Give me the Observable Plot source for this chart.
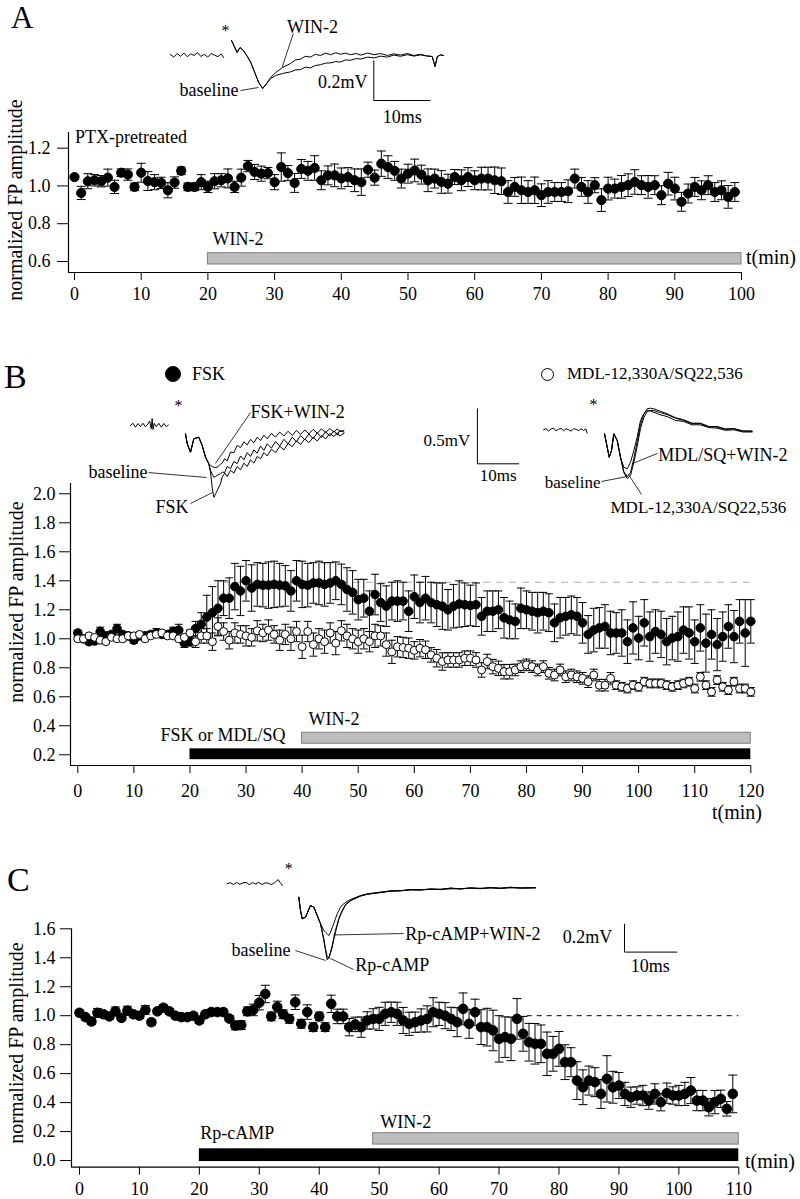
<!DOCTYPE html>
<html>
<head>
<meta charset="utf-8">
<script src="https://cdn.jsdelivr.net/npm/d3@7"></script>
<script src="https://cdn.jsdelivr.net/npm/@observablehq/plot@0.6"></script>
<style>
html,body{margin:0;padding:0;background:#fff;}
#fig{position:relative;width:800px;height:1199px;overflow:hidden;font-family:"Liberation Serif","Times New Roman",serif;color:#000;}
#fig svg{position:absolute;overflow:visible;max-width:none;}
</style>
</head>
<body>
<div id="fig"></div>
<script>
// ================= DATA =================
// Panel A : PTX-pretreated, WIN-2 from 20 to 100 min
const timeA = d3.range(0, 100);
const ampA = [1.047,0.963,1.025,1.03,1.025,1.044,0.995,1.07,1.06,0.995,
  1.07,1.026,1.02,1.016,0.977,1.018,1.08,0.995,0.995,1.02,
  0.995,1.025,1.03,1.04,0.995,1.044,1.105,1.074,1.065,1.068,
  1.02,1.10,1.068,1.016,1.09,1.08,1.095,1.03,1.056,1.056,
  1.04,1.047,1.03,1.02,1.086,1.044,1.118,1.10,1.08,1.039,
  1.065,1.082,1.06,1.03,1.039,1.021,1.012,1.047,1.03,1.047,
  1.03,1.039,1.039,1.03,1.025,0.968,0.995,0.977,0.968,0.977,
  0.951,0.968,0.968,0.968,0.972,1.039,0.995,0.968,1.004,0.925,
  0.986,0.986,0.995,1.004,1.021,1.004,0.995,1.004,0.951,1.012,
  0.986,0.916,0.96,0.995,0.977,1.004,0.968,0.977,0.942,0.968];
const errA = [0.012,0.035,0.04,0.03,0.03,0.045,0.035,0.02,0.03,0.02,
  0.05,0.05,0.04,0.03,0.04,0.03,0.02,0.02,0.02,0.04,
  0.03,0.04,0.035,0.05,0.03,0.045,0.03,0.04,0.04,0.03,
  0.04,0.075,0.04,0.05,0.05,0.05,0.065,0.05,0.05,0.06,
  0.055,0.05,0.06,0.07,0.04,0.04,0.067,0.06,0.05,0.05,
  0.05,0.06,0.05,0.06,0.05,0.06,0.05,0.04,0.055,0.05,
  0.05,0.06,0.06,0.07,0.07,0.06,0.05,0.07,0.06,0.07,
  0.06,0.06,0.05,0.05,0.06,0.05,0.05,0.06,0.04,0.06,
  0.06,0.05,0.06,0.06,0.065,0.05,0.06,0.05,0.05,0.06,
  0.06,0.05,0.05,0.05,0.05,0.05,0.05,0.05,0.06,0.05];
const drugA = [{name: "WIN-2", start: 20, end: 100}];

// Panel B : FSK (filled) and MDL-12,330A/SQ22,536 (open)
const timeB = d3.range(0, 121);
const ampFSK = [1.04,1.0,0.98,0.985,1.05,1.02,1.03,1.07,1.03,1.02,
  0.99,1.02,1.02,1.03,1.04,1.03,1.03,1.05,1.06,0.97,
  0.98,1.07,1.10,1.15,1.18,1.21,1.28,1.28,1.36,1.33,
  1.40,1.35,1.375,1.37,1.37,1.375,1.37,1.365,1.33,1.40,
  1.375,1.37,1.385,1.385,1.375,1.385,1.40,1.375,1.34,1.32,
  1.27,1.28,1.19,1.305,1.25,1.225,1.26,1.26,1.26,1.19,
  1.29,1.25,1.28,1.25,1.235,1.225,1.20,1.225,1.24,1.235,
  1.23,1.235,1.155,1.19,1.19,1.20,1.145,1.13,1.12,1.21,
  1.20,1.19,1.18,1.19,1.18,1.11,1.145,1.155,1.165,1.155,
  1.11,1.03,1.06,1.075,1.085,1.04,1.04,1.04,0.98,1.075,
  1.005,1.11,1.015,1.05,1.03,0.98,1.005,1.015,1.06,1.04,
  0.98,1.075,0.97,1.03,0.96,1.015,1.085,1.015,1.12,1.04,1.12];
const errFSK = [0.02,0.02,0.02,0.02,0.03,0.02,0.02,0.03,0.02,0.02,
  0.02,0.02,0.02,0.02,0.03,0.02,0.02,0.03,0.04,0.03,
  0.03,0.05,0.08,0.15,0.18,0.19,0.12,0.14,0.16,0.17,
  0.14,0.16,0.15,0.15,0.16,0.16,0.15,0.14,0.14,0.14,
  0.16,0.15,0.14,0.15,0.15,0.14,0.13,0.14,0.15,0.15,
  0.14,0.13,0.14,0.14,0.13,0.14,0.13,0.14,0.13,0.14,
  0.15,0.14,0.15,0.14,0.15,0.16,0.14,0.15,0.16,0.15,
  0.14,0.15,0.13,0.14,0.14,0.13,0.14,0.13,0.12,0.14,
  0.13,0.13,0.14,0.13,0.13,0.13,0.14,0.13,0.13,0.13,
  0.14,0.13,0.15,0.14,0.15,0.15,0.14,0.16,0.15,0.18,
  0.15,0.16,0.17,0.15,0.16,0.16,0.15,0.17,0.16,0.18,
  0.15,0.16,0.2,0.17,0.18,0.17,0.15,0.18,0.15,0.23,0.15];
const ampMDL = [1.0,1.0,1.02,1.01,0.99,0.98,1.01,1.0,1.0,1.02,
  1.02,1.03,1.0,1.02,1.03,1.04,1.02,1.02,1.0,1.01,
  1.04,0.98,1.02,1.02,0.98,1.085,1.05,0.99,1.04,1.03,
  1.02,1.01,1.055,1.04,1.06,1.03,0.99,1.03,1.0,1.05,
  0.945,1.05,0.96,1.0,0.98,1.04,0.97,1.055,1.02,1.0,
  0.98,1.0,0.98,1.02,1.02,0.96,0.91,0.945,0.94,0.935,
  0.92,0.935,0.924,0.889,0.866,0.843,0.854,0.854,0.854,0.866,
  0.866,0.854,0.785,0.843,0.808,0.796,0.773,0.773,0.785,0.808,
  0.82,0.808,0.785,0.808,0.762,0.75,0.785,0.738,0.75,0.738,
  0.727,0.704,0.75,0.68,0.68,0.727,0.68,0.669,0.657,0.68,
  0.669,0.704,0.692,0.692,0.692,0.68,0.669,0.68,0.692,0.704,
  0.657,0.738,0.68,0.634,0.715,0.669,0.646,0.704,0.657,0.657,0.634];
const errMDL = [0.01,0.012,0.01,0.012,0.01,0.012,0.01,0.012,0.01,0.012,
  0.01,0.012,0.01,0.012,0.015,0.012,0.01,0.012,0.015,0.012,
  0.02,0.04,0.05,0.05,0.06,0.06,0.06,0.06,0.07,0.06,
  0.07,0.06,0.07,0.06,0.07,0.06,0.07,0.07,0.08,0.07,
  0.08,0.07,0.08,0.07,0.08,0.07,0.08,0.07,0.08,0.07,
  0.08,0.07,0.07,0.08,0.07,0.08,0.08,0.07,0.07,0.07,
  0.06,0.06,0.06,0.05,0.06,0.06,0.05,0.05,0.05,0.05,
  0.05,0.05,0.05,0.05,0.05,0.05,0.05,0.05,0.04,0.04,
  0.04,0.04,0.04,0.04,0.04,0.04,0.04,0.04,0.04,0.04,
  0.04,0.04,0.04,0.04,0.04,0.04,0.03,0.03,0.03,0.03,
  0.03,0.03,0.03,0.03,0.03,0.03,0.03,0.03,0.03,0.03,
  0.03,0.03,0.03,0.03,0.03,0.03,0.03,0.03,0.03,0.03,0.03];
const drugB1 = [{name: "FSK or MDL/SQ", start: 20, end: 120}];
const drugB2 = [{name: "WIN-2", start: 40, end: 120}];
const refLevelB = 1.39;

// Panel C : Rp-cAMP
const timeC = d3.range(0, 110);
const ampC = [1.02,0.99,0.96,1.02,1.01,0.995,1.03,0.985,1.035,1.01,
  1.0,1.04,0.955,1.03,1.055,1.03,1.0,0.99,0.99,1.0,
  0.967,1.01,1.025,1.025,1.025,0.98,0.932,0.935,1.03,1.04,
  1.09,1.15,0.995,1.06,1.01,0.978,1.093,0.944,1.025,0.921,
  0.995,0.921,1.082,0.995,0.995,0.921,0.94,0.921,0.967,0.978,
  0.978,1.013,1.024,1.013,0.967,0.944,0.955,0.967,0.978,1.024,
  1.013,1.0,0.978,0.955,1.047,0.944,1.024,0.921,0.921,0.898,
  0.84,0.852,0.84,0.978,0.875,0.817,0.806,0.806,0.737,0.737,
  0.771,0.679,0.679,0.552,0.506,0.552,0.541,0.46,0.564,0.506,
  0.518,0.46,0.437,0.449,0.449,0.414,0.46,0.403,0.465,0.449,
  0.449,0.46,0.483,0.414,0.414,0.368,0.403,0.426,0.357,0.46];
const errC = [0.02,0.02,0.02,0.03,0.02,0.02,0.03,0.02,0.03,0.02,
  0.02,0.03,0.02,0.02,0.02,0.02,0.02,0.02,0.02,0.02,
  0.02,0.02,0.02,0.02,0.02,0.02,0.03,0.03,0.03,0.04,
  0.05,0.06,0.03,0.04,0.03,0.03,0.05,0.03,0.05,0.03,
  0.03,0.03,0.06,0.05,0.05,0.06,0.05,0.07,0.06,0.07,
  0.08,0.08,0.07,0.08,0.09,0.08,0.07,0.08,0.09,0.1,
  0.08,0.09,0.08,0.1,0.11,0.1,0.09,0.12,0.13,0.14,
  0.16,0.14,0.15,0.14,0.12,0.13,0.14,0.13,0.15,0.12,
  0.12,0.12,0.1,0.13,0.12,0.1,0.1,0.1,0.16,0.11,
  0.09,0.08,0.07,0.06,0.07,0.06,0.07,0.06,0.07,0.06,
  0.07,0.08,0.09,0.07,0.07,0.06,0.08,0.06,0.05,0.13];
const drugC1 = [{name: "Rp-cAMP", start: 20, end: 110}];
const drugC2 = [{name: "WIN-2", start: 49, end: 110}];
const refLevelC = 1.0;

// ---- example field-potential traces (ms, mV) ----
const scaleA = {ms: 10, mv: 0.2};
const preA_t = [-10.8,-10.2,-9.6,-9.0,-8.4,-7.8,-7.2,-6.6,-6.0,-5.4,-4.8,-4.2,-3.6,-3.0,-2.4,-1.8,-1.4];
const preA_v = [0.005,-0.008,0.01,-0.004,0.012,-0.006,0.008,0.0,0.014,-0.005,0.006,-0.008,0.01,0.002,-0.006,0.008,-0.01];
const trA_t = [0,0.5,1.0,1.5,2.1,2.8,3.4,4.1,4.8,5.5,6.2,6.9,7.8,9.0,10.4,11.3,12.2,13.0,13.9,14.8,15.7,16.6,17.5,18.4,19.2,20.1,21.0,22.0,22.8,24.0,25.2,26.3,27.5,28.6,29.8,31.0,32.2,33.3,34.4,35.4,35.9,36.3,36.9,37.4];
const trA_base = [0.075,0.045,0.015,0.04,0.025,-0.005,-0.035,-0.085,-0.135,-0.165,-0.14,-0.115,-0.10,-0.09,-0.082,-0.072,-0.07,-0.058,-0.062,-0.05,-0.046,-0.038,-0.037,-0.03,-0.033,-0.022,-0.024,-0.015,-0.018,-0.008,-0.012,-0.003,-0.008,0.002,-0.004,0.004,-0.003,0.003,-0.002,-0.005,-0.055,-0.005,0.003,0.0];
const trA_win = [0.075,0.045,0.015,0.04,0.025,-0.005,-0.035,-0.085,-0.135,-0.165,-0.14,-0.11,-0.085,-0.06,-0.04,-0.022,-0.018,-0.004,-0.008,0.006,0.0,0.012,0.004,0.014,0.006,0.012,0.004,0.01,0.002,0.012,0.004,0.01,0.0,0.008,0.002,0.01,0.0,0.006,-0.002,-0.005,-0.055,-0.005,0.003,0.0];

const scaleB = {ms: 10, mv: 0.5};
const preBL_t = [-13.2,-12.6,-12.0,-11.4,-10.8,-10.2,-9.6,-9.0,-8.6,-8.2,-8.0,-7.8,-7.5,-7.0,-6.4,-5.8,-5.2,-4.6,-4.1];
const preBL_v = [0,0.02,-0.015,0.018,-0.01,0.02,-0.012,0.015,0.04,-0.03,0.063,-0.036,0.02,-0.01,0.02,-0.015,0.018,-0.01,0.005];
const trBL_t = [0,0.41,1.2,2.0,3.19,4.0,4.8,5.59,6.0,6.4,6.79,7.2,7.6,8.0,8.39,8.8,9.4,10.0,10.8,11.6,12.4,13.2,14.0,14.8,15.6,16.4,17.2,18.0,18.8,19.6,20.6,21.6,22.6,23.6,24.6,25.6,26.6,27.6,28.6,29.6,30.6,31.6,32.6,33.6,34.6,35.6,36.4,37.0,38.0];
const trBL_fsk = [-0.075,-0.165,-0.241,-0.12,-0.106,-0.181,-0.286,-0.346,
  -0.42,-0.56,-0.648,-0.62,-0.587,-0.555,-0.527,-0.467,
  -0.43,-0.46,-0.405,-0.43,-0.37,-0.40,-0.34,-0.37,-0.31,-0.34,-0.28,-0.30,-0.245,-0.275,-0.215,-0.245,-0.187,-0.22,-0.163,-0.19,-0.14,-0.17,-0.122,-0.155,-0.107,-0.14,-0.09,-0.12,-0.072,-0.1,-0.065,-0.095,-0.07];
const trBL_base = [-0.075,-0.165,-0.241,-0.12,-0.106,-0.181,-0.286,-0.346,
  -0.407,-0.44,-0.467,-0.46,-0.45,-0.443,-0.436,-0.42,
  -0.425,-0.37,-0.39,-0.325,-0.345,-0.275,-0.31,-0.245,-0.28,-0.22,-0.25,-0.185,-0.225,-0.165,-0.205,-0.145,-0.185,-0.125,-0.165,-0.105,-0.147,-0.09,-0.13,-0.075,-0.12,-0.065,-0.11,-0.055,-0.095,-0.048,-0.087,-0.045,-0.06];
const trBL_win = [-0.075,-0.165,-0.241,-0.12,-0.106,-0.181,-0.286,-0.346,
  -0.361,-0.37,-0.377,-0.38,-0.377,-0.365,-0.35,-0.34,
  -0.30,-0.32,-0.24,-0.245,-0.18,-0.2,-0.147,-0.175,-0.125,-0.156,-0.105,-0.135,-0.088,-0.12,-0.072,-0.105,-0.06,-0.095,-0.052,-0.09,-0.045,-0.08,-0.04,-0.075,-0.035,-0.07,-0.03,-0.065,-0.028,-0.06,-0.03,-0.055,-0.045];
const preBR_t = [-14.6,-14.0,-13.4,-12.8,-12.2,-11.6,-11.0,-10.4,-9.8,-9.2,-8.6,-8.0,-7.4,-6.8,-6.2,-5.6,-5.0,-4.5,-4.15];
const preBR_v = [0,0.01,-0.012,0.008,0.015,-0.01,0.006,0.012,-0.008,0.01,0.0,-0.012,0.01,0.004,-0.008,0.01,-0.006,0.008,-0.03];
const trBR_t = [0,0.65,1.13,1.68,2.23,3.05,3.84,4.63,5.44,6.24,7.03,7.84,8.63,9.42,10.24,11.0,11.8,13.4,15.0,17.0,19.0,21.0,23.0,25.0,27.0,29.0,31.0,33.2,35.4];
const trBR_win = [-0.036,-0.157,-0.248,-0.187,-0.036,-0.097,-0.248,-0.338,-0.352,-0.293,-0.187,-0.067,0.084,0.145,0.174,0.17,0.159,0.135,0.12,0.085,0.075,0.045,0.045,0.02,0.015,-0.005,0.0,-0.02,-0.02];
const trBR_base = [-0.036,-0.157,-0.248,-0.187,-0.036,-0.097,-0.248,-0.377,-0.422,-0.386,-0.259,-0.106,0.048,0.138,0.19,0.195,0.19,0.168,0.145,0.11,0.09,0.06,0.06,0.03,0.03,0.008,0.012,-0.01,-0.01];
const trBR_mdl = [-0.036,-0.157,-0.248,-0.187,-0.036,-0.097,-0.248,-0.386,-0.44,-0.413,-0.295,-0.151,0.012,0.111,0.165,0.175,0.174,0.155,0.138,0.105,0.085,0.055,0.055,0.028,0.025,0.005,0.008,-0.012,-0.015];

const scaleC = {ms: 10, mv: 0.2};
const preC_t = [-13.6,-13.0,-12.4,-11.8,-11.2,-10.6,-10.0,-9.4,-8.8,-8.2,-7.6,-7.0,-6.4,-5.8,-5.2,-4.6,-4.2,-3.9,-3.6,-3.3,-3.15];
const preC_v = [0,0.008,-0.005,0.01,-0.004,0.006,0.01,-0.006,0.008,-0.002,0.01,-0.005,0.006,0.004,-0.006,0.008,0.02,0.03,0.01,0.0,-0.012];
const trC_t = [0,0.32,0.65,1.27,2.22,2.85,3.49,4.12,4.74,5.07,5.39,5.69,6.02,6.34,6.64,6.96,7.29,7.59,7.91,8.24,8.86,9.81,11.7,13.0,15.5,17.4,19.3,21.2,23.1,25.0,26.9,28.8,30.7,32.6,34.5,36.4,38.3,40.2,42.1,44.9];
const trC_win = [-0.095,-0.188,-0.247,-0.236,-0.153,-0.165,-0.224,-0.282,-0.329,-0.342,-0.353,-0.365,-0.342,-0.31,-0.282,-0.245,-0.212,-0.19,-0.165,-0.15,-0.132,-0.111,-0.083,-0.071,-0.059,-0.05,-0.049,-0.04,-0.043,-0.036,-0.04,-0.03,-0.036,-0.028,-0.034,-0.026,-0.032,-0.024,-0.03,-0.028];
const trC_base = [-0.095,-0.188,-0.247,-0.236,-0.153,-0.165,-0.224,-0.282,-0.40,-0.471,-0.536,-0.52,-0.48,-0.435,-0.38,-0.329,-0.285,-0.245,-0.215,-0.188,-0.146,-0.118,-0.086,-0.073,-0.06,-0.053,-0.048,-0.044,-0.041,-0.04,-0.038,-0.036,-0.034,-0.032,-0.031,-0.03,-0.03,-0.029,-0.028,-0.028];
const trC_rp = [-0.095,-0.188,-0.247,-0.236,-0.153,-0.165,-0.224,-0.282,-0.386,-0.46,-0.513,-0.527,-0.49,-0.449,-0.395,-0.343,-0.295,-0.252,-0.222,-0.195,-0.15,-0.12,-0.087,-0.074,-0.062,-0.05,-0.05,-0.042,-0.045,-0.037,-0.041,-0.031,-0.037,-0.029,-0.035,-0.027,-0.033,-0.025,-0.031,-0.028];

// ================= DRAWING =================
const FONT = '"Liberation Serif","Times New Roman",serif';
const fig = document.getElementById("fig");

const capSym = {draw(ctx, size) { const w = Math.sqrt(size / Math.PI); ctx.moveTo(-w, 0); ctx.lineTo(w, 0); }};
const rows = (ts, vs, es) => ts.map((t, i) => ({t, v: vs[i], e: es[i]}));
const pts = (ts, vs) => ts.map((t, i) => ({t, v: vs[i]}));

function series(data, {r = 4.5, cap = 4.5, filled = true}) {
  return [
    Plot.ruleX(data, {x: "t", y1: d => d.v - d.e, y2: d => d.v + d.e, stroke: "black", strokeWidth: 1}),
    Plot.dot(data, {x: "t", y: d => d.v + d.e, symbol: capSym, r: cap, stroke: "black", strokeWidth: 1, fill: "none"}),
    Plot.dot(data, {x: "t", y: d => d.v - d.e, symbol: capSym, r: cap, stroke: "black", strokeWidth: 1, fill: "none"}),
    Plot.dot(data, {x: "t", y: "v", r, fill: filled ? "black" : "white", stroke: "black", strokeWidth: 1})
  ];
}

function panel({top, height, mt, mb, ml, mr, xdom, ydom, xticks, yticks, xpad, ypad, marks}) {
  const svg = Plot.plot({
    width: 800, height, marginTop: mt, marginBottom: mb, marginLeft: ml, marginRight: mr,
    x: {domain: xdom}, y: {domain: ydom},
    style: {fontFamily: FONT, fontSize: "18px", color: "black", background: "transparent", overflow: "visible"},
    marks: [
      ...marks,
      Plot.ruleX([xdom[0]], {stroke: "black", strokeWidth: 1.2}),
      Plot.ruleY([ydom[0]], {stroke: "black", strokeWidth: 1.2}),
      Plot.axisX({ticks: xticks, tickSize: 8, tickPadding: xpad, tickFormat: d => String(d), label: null, fontSize: 18, stroke: "black"}),
      Plot.axisY({ticks: yticks, tickSize: 11, tickPadding: ypad, tickFormat: d3.format(".1f"), label: null, fontSize: 18, stroke: "black"})
    ]
  });
  svg.style.left = "0px"; svg.style.top = top + "px";
  fig.appendChild(svg);
}

function inset(cfg, marks) {
  const {left, top, width, height, k, m, ox, oy} = cfg;
  const svg = Plot.plot({
    width, height, margin: 0,
    x: {domain: [(left - ox) / k, (left + width - ox) / k], axis: null},
    y: {domain: [(oy - top - height) / m, (oy - top) / m], axis: null},
    style: {fontFamily: FONT, fontSize: "18px", color: "black", background: "transparent", overflow: "visible"},
    marks
  });
  svg.style.left = left + "px"; svg.style.top = top + "px";
  fig.appendChild(svg);
}
const trace = (ts, vs, w = 1) => Plot.line(pts(ts, vs), {x: "t", y: "v", stroke: "black", strokeWidth: w});
const txt = (t, v, s, anchor = "start", size = 18, dy = 0) => Plot.text([{t, v, s}], {x: "t", y: "v", text: "s", textAnchor: anchor, fontSize: size, dy, fill: "black"});
const seg = (x1, y1, x2, y2, w = 0.8) => Plot.link([{x1, y1, x2, y2}], {x1: "x1", y1: "y1", x2: "x2", y2: "y2", stroke: "black", strokeWidth: w});

function note(text, x, baseline, size, anchor = "start") {
  const d = document.createElement("div");
  d.textContent = text;
  d.style.cssText = `position:absolute;left:${x}px;top:${baseline - 0.3375 * size}px;font-size:${size}px;line-height:0;white-space:nowrap;`;
  if (anchor === "end") d.style.transform = "translateX(-100%)";
  fig.appendChild(d);
}
function ylabel(cx, cy) {
  const d = document.createElement("div");
  d.textContent = "normalized FP amplitude";
  d.style.cssText = `position:absolute;left:${cx}px;top:${cy}px;font-size:20px;line-height:20px;white-space:nowrap;transform:translate(-50%,-50%) rotate(-90deg);`;
  fig.appendChild(d);
}
function legendDot(cx, cy, dia, filled) {
  const d = document.createElement("div");
  d.style.cssText = `position:absolute;box-sizing:border-box;left:${cx - dia / 2}px;top:${cy - dia / 2}px;width:${dia}px;height:${dia}px;border-radius:50%;border:1.5px solid #000;background:${filled ? "#000" : "#fff"};`;
  fig.appendChild(d);
}

// ---------- Panel A ----------
panel({
  top: 0, height: 310, mt: 132, mb: 38, ml: 68, mr: 59,
  xdom: [-0.9, 100], ydom: [0.5417, 1.283],
  xticks: d3.range(0, 101, 10), yticks: [0.6, 0.8, 1.0, 1.2], xpad: 7, ypad: 7,
  marks: [
    Plot.rect(drugA, {x1: "start", x2: "end", y1: 0.584, y2: 0.644, fill: "#bdbdbd", stroke: "#808080", strokeWidth: 1}),
    Plot.text(drugA, {x: "start", y: 0.72, text: "name", textAnchor: "start", dx: 4.6, fontSize: 18}),
    ...series(rows(timeA, ampA, errA), {r: 4.6, cap: 4.5, filled: true})
  ]
});
inset({left: 150, top: 0, width: 300, height: 130, k: 5.67, m: 200, ox: 231, oy: 55}, [
  trace(preA_t, preA_v),
  trace(trA_t, trA_base),
  trace(trA_t, trA_win),
  txt(-1.06, 0.14, "*", "middle", 16, 3),
  txt(9.8, 0.14, "WIN-2"),
  seg(10.9, 0.11, 8.94, -0.058),
  txt(1.23, -0.175, "baseline", "end"),
  seg(1.59, -0.175, 4.76, -0.16),
  seg(25.1, -0.025, 25.1, -0.025 - scaleA.mv, 1),
  seg(25.1, -0.025 - scaleA.mv, 25.1 + scaleA.ms, -0.025 - scaleA.mv, 1),
  txt(24.0, -0.133, "0.2mV", "end"),
  txt(30.1, -0.31, "10ms", "middle")
]);
note("A", 11, 28, 31);
note("PTX-pretreated", 75, 143.5, 18);
note("t(min)", 746, 264, 20);
ylabel(15, 200);

// ---------- Panel B ----------
panel({
  top: 300, height: 520, mt: 183, mb: 55, ml: 70, mr: 49.7,
  xdom: [-1.3, 120], ydom: [0.126, 2.071],
  xticks: d3.range(0, 121, 10), yticks: d3.range(0.2, 2.01, 0.2), xpad: 11, ypad: 4,
  marks: [
    Plot.rect(drugB1, {x1: "start", x2: "end", y1: 0.166, y2: 0.241, fill: "black"}),
    Plot.rect(drugB2, {x1: "start", x2: "end", y1: 0.276, y2: 0.352, fill: "#bdbdbd", stroke: "#808080", strokeWidth: 1}),
    Plot.text(drugB2, {x: "start", y: 0.448, text: "name", textAnchor: "start", dx: 6.4, fontSize: 18}),
    Plot.text(drugB1, {x: "start", y: 0.333, text: "name", textAnchor: "start", dx: -29.5, fontSize: 18}),
    Plot.ruleY([refLevelB], {x1: 26, x2: 120, stroke: "#b0b0b0", strokeDasharray: "7,6", strokeWidth: 1}),
    ...series(rows(timeB, ampFSK, errFSK), {r: 4.3, cap: 4, filled: true}),
    ...series(rows(timeB, ampMDL, errMDL), {r: 4, cap: 4, filled: false})
  ]
});
inset({left: 80, top: 390, width: 460, height: 130, k: 4.17, m: 110.7, ox: 185, oy: 425}, [
  trace(preBL_t, preBL_v),
  trace(trBL_t, trBL_fsk),
  trace(trBL_t, trBL_base),
  trace(trBL_t, trBL_win),
  txt(-1.68, 0.208, "*", "middle", 16, 3),
  txt(15.6, 0.117, "FSK+WIN-2"),
  seg(15.6, 0.117, 7.19, -0.343),
  txt(-9.1, -0.42, "baseline", "end"),
  seg(-8.87, -0.425, 5.04, -0.47),
  txt(0.72, -0.738, "FSK", "end"),
  seg(1.2, -0.705, 6.47, -0.605),
  seg(70.0, 0.154, 70.0, 0.154 - scaleB.mv, 1),
  seg(70.0, 0.154 - scaleB.mv, 70.0 + scaleB.ms, 0.154 - scaleB.mv, 1),
  txt(68.3, -0.136, "0.5mV", "end", 17),
  txt(75.0, -0.45, "10ms", "middle", 17)
]);
inset({left: 530, top: 385, width: 270, height: 135, k: 4.17, m: 110.7, ox: 604, oy: 429.3}, [
  trace(preBR_t, preBR_v),
  trace(trBR_t, trBR_mdl),
  trace(trBR_t, trBR_base),
  trace(trBR_t, trBR_win),
  txt(-2.64, 0.249, "*", "middle", 16, 3),
  txt(12.9, -0.232, "MDL/SQ+WIN-2"),
  seg(12.7, -0.214, 6.7, -0.304),
  txt(-0.96, -0.473, "baseline", "end", 17),
  seg(-0.72, -0.467, 5.44, -0.422),
  txt(1.44, -0.699, "MDL-12,330A/SQ22,536", "start", 17),
  seg(5.76, -0.404, 8.87, -0.584)
]);
note("B", 4, 388, 34);
legendDot(173, 374, 16, true);
note("FSK", 192, 380, 18);
legendDot(547, 374, 13, false);
note("MDL-12,330A/SQ22,536", 567, 380, 17);
note("t(min)", 712, 819, 20);
ylabel(16, 602);

// ---------- Panel C ----------
panel({
  top: 820, height: 379, mt: 108.3, mb: 32.3, ml: 71, mr: 61.7,
  xdom: [-1.33, 110], ydom: [-0.046, 1.6],
  xticks: d3.range(0, 111, 10), yticks: d3.range(0, 1.61, 0.2), xpad: 7, ypad: 5,
  marks: [
    Plot.rect(drugC1, {x1: "start", x2: "end", y1: -0.007, y2: 0.081, fill: "black"}),
    Plot.rect(drugC2, {x1: "start", x2: "end", y1: 0.11, y2: 0.189, fill: "#bdbdbd", stroke: "#808080", strokeWidth: 1}),
    Plot.text(drugC1, {x: "start", y: 0.186, text: "name", textAnchor: "start", dx: 1, fontSize: 18}),
    Plot.text(drugC2, {x: "start", y: 0.264, text: "name", textAnchor: "start", dx: 7, fontSize: 18}),
    Plot.ruleY([refLevelC], {x1: 74.7, x2: 110, stroke: "black", strokeDasharray: "5,5", strokeWidth: 1}),
    ...series(rows(timeC, ampC, errC), {r: 4.8, cap: 4.5, filled: true})
  ]
});
inset({left: 220, top: 850, width: 470, height: 130, k: 5.27, m: 141.7, ox: 298.3, oy: 883.3}, [
  trace(preC_t, preC_v),
  trace(trC_t, trC_base),
  trace(trC_t, trC_rp),
  trace(trC_t, trC_win),
  txt(-1.9, 0.129, "*", "middle", 16, 3),
  txt(20.2, -0.353, "Rp-cAMP+WIN-2"),
  seg(6.58, -0.361, 19.9, -0.351),
  txt(10.7, -0.577, "Rp-cAMP"),
  seg(6.0, -0.527, 10.4, -0.605),
  txt(-1.57, -0.471, "baseline", "end"),
  seg(-0.63, -0.471, 5.07, -0.541),
  seg(61.8, -0.282, 61.8, -0.282 - scaleC.mv, 1),
  seg(61.8, -0.282 - scaleC.mv, 61.8 + scaleC.ms, -0.282 - scaleC.mv, 1),
  txt(59.5, -0.377, "0.2mV", "end"),
  txt(66.7, -0.581, "10ms", "middle")
]);
note("C", 7, 891, 34);
note("t(min)", 745, 1168, 20);
ylabel(16, 1043);
</script>
</body>
</html>
